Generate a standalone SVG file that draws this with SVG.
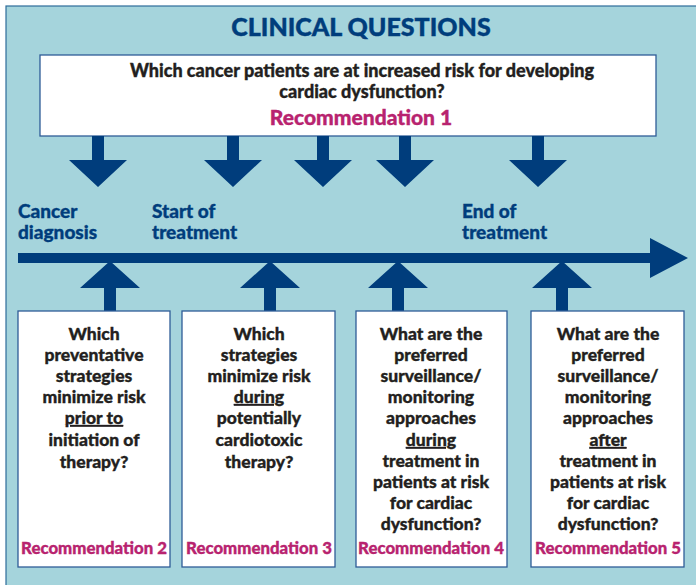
<svg xmlns="http://www.w3.org/2000/svg" width="696" height="585" viewBox="0 0 696 585">
<defs>
<style>
.bg{fill:#A5D4DC;stroke:#2E6C9A;stroke-width:1.2}
.box{fill:#fff;stroke:#2E5C97;stroke-width:1.3}
.ar{fill:#003D7C}
.t{font-family:Lato,"Open Sans","Liberation Sans",sans-serif;font-weight:900;fill:#231F20;stroke:#231F20;stroke-width:0.35;text-anchor:middle}
.q{font-size:17.5px}
.rec{font-family:Lato,"Open Sans","Liberation Sans",sans-serif;font-weight:900;fill:#B8236F;stroke:#B8236F;stroke-width:0.35;text-anchor:middle}
.lab{font-family:Lato,"Open Sans","Liberation Sans",sans-serif;font-weight:900;fill:#003D7C;stroke:#003D7C;stroke-width:0.35;font-size:19px}
</style>
</defs>
<rect class="bg" x="6" y="6" width="700" height="600"/>
<text x="361" y="36" font-family="Lato,'Open Sans','Liberation Sans',sans-serif" font-weight="900" font-size="25" fill="#003D7C" stroke="#003D7C" stroke-width="0.4" text-anchor="middle">CLINICAL QUESTIONS</text>
<g id="rec1">
<rect class="box" x="40" y="55" width="616" height="81"/>
<text class="t" x="362" y="77" font-size="18">Which cancer patients are at increased risk for developing</text>
<text class="t" x="362" y="97.5" font-size="18">cardiac dysfunction?</text>
<text class="rec" x="361" y="125" font-size="21">Recommendation 1</text>
</g>
<g id="connectors">
<path class="ar" d="M92 136h12v24h23l-29 27l-29-27h23z"/>
<path class="ar" d="M227 136h12v24h23l-29 27l-29-27h23z"/>
<path class="ar" d="M317 136h12v24h23l-29 27l-29-27h23z"/>
<path class="ar" d="M399 136h12v24h23l-29 27l-29-27h23z"/>
<path class="ar" d="M532 136h12v24h23l-29 27l-29-27h23z"/>
<path class="ar" d="M18 253h632v-15l38 20l-38 20v-15h-632z"/>
<path class="ar" d="M104 312v-24h-24l30-27l30 27h-24v24z"/>
<path class="ar" d="M264 312v-24h-24l30-27l30 27h-24v24z"/>
<path class="ar" d="M392 312v-24h-24l30-27l30 27h-24v24z"/>
<path class="ar" d="M556 312v-24h-24l30-27l30 27h-24v24z"/>
</g>
<g id="labels">
<text class="lab" x="18" y="218">Cancer</text>
<text class="lab" x="18" y="239">diagnosis</text>
<text class="lab" x="152" y="218">Start of</text>
<text class="lab" x="152" y="239">treatment</text>
<text class="lab" x="462" y="218">End of</text>
<text class="lab" x="462" y="239">treatment</text>
</g>
<g id="rec2">
<rect class="box" x="18" y="311" width="152" height="256"/>
<text class="t q" x="94" y="340">Which</text>
<text class="t q" x="94" y="361">preventative</text>
<text class="t q" x="94" y="382">strategies</text>
<text class="t q" x="94" y="403">minimize risk</text>
<text class="t q" x="94" y="424" text-decoration="underline">prior to</text>
<text class="t q" x="94" y="446">initiation of</text>
<text class="t q" x="94" y="468">therapy?</text>
<text class="rec" x="94" y="554" font-size="16.8">Recommendation 2</text>
</g>
<g id="rec3">
<rect class="box" x="182" y="311" width="153" height="256"/>
<text class="t q" x="259" y="340">Which</text>
<text class="t q" x="259" y="361">strategies</text>
<text class="t q" x="259" y="382">minimize risk</text>
<text class="t q" x="259" y="403" text-decoration="underline">during</text>
<text class="t q" x="259" y="424">potentially</text>
<text class="t q" x="259" y="446">cardiotoxic</text>
<text class="t q" x="259" y="468">therapy?</text>
<text class="rec" x="259" y="554" font-size="16.8">Recommendation 3</text>
</g>
<g id="rec4">
<rect class="box" x="356" y="311" width="151" height="256"/>
<text class="t q" x="431" y="340">What are the</text>
<text class="t q" x="431" y="361">preferred</text>
<text class="t q" x="431" y="382">surveillance/</text>
<text class="t q" x="431" y="403">monitoring</text>
<text class="t q" x="431" y="424">approaches</text>
<text class="t q" x="431" y="446" text-decoration="underline">during</text>
<text class="t q" x="431" y="467">treatment in</text>
<text class="t q" x="431" y="488">patients at risk</text>
<text class="t q" x="431" y="509">for cardiac</text>
<text class="t q" x="431" y="530">dysfunction?</text>
<text class="rec" x="431" y="554" font-size="16.8">Recommendation 4</text>
</g>
<g id="rec5">
<rect class="box" x="531" y="311" width="153" height="256"/>
<text class="t q" x="608" y="340">What are the</text>
<text class="t q" x="608" y="361">preferred</text>
<text class="t q" x="608" y="382">surveillance/</text>
<text class="t q" x="608" y="403">monitoring</text>
<text class="t q" x="608" y="424">approaches</text>
<text class="t q" x="608" y="446" text-decoration="underline">after</text>
<text class="t q" x="608" y="467">treatment in</text>
<text class="t q" x="608" y="488">patients at risk</text>
<text class="t q" x="608" y="509">for cardiac</text>
<text class="t q" x="608" y="530">dysfunction?</text>
<text class="rec" x="608" y="554" font-size="16.8">Recommendation 5</text>
</g>
</svg>
